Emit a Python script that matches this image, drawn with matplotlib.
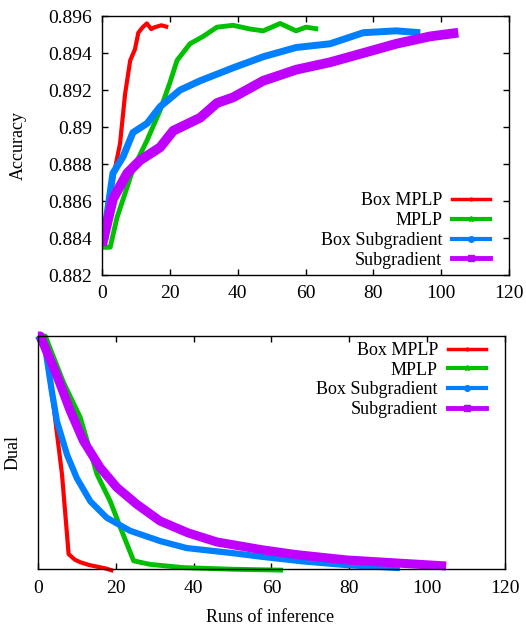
import matplotlib
matplotlib.use("Agg")
import matplotlib.pyplot as plt
from matplotlib.ticker import FuncFormatter, MultipleLocator

plt.rcParams['font.family'] = ['Liberation Serif', 'DejaVu Serif']
plt.rcParams['font.size'] = 13

labels = ["Box MPLP", "MPLP", "Box Subgradient", "Subgradient"]
colors = ['#ff0000', '#00c000', '#0080ff', '#c000ff']
markers = ['.', '*', 'o', 's']

# accuracy vs runs of inference
acc_box_mplp_x = [0, 2, 4.3, 5.3, 6.8, 8.3, 9.7, 10.7, 12, 13.2, 14.5, 15.6, 17.5, 19.5]
acc_box_mplp_y = [0.8836, 0.8860, 0.8882, 0.8891, 0.8918, 0.8936, 0.8942, 0.8951, 0.8954,
                  0.8956, 0.8953, 0.8954, 0.8955, 0.8954]

acc_mplp_x = [0, 2.4, 4.4, 9.1, 13.3, 17.1, 20, 22.1, 25.9, 29.8, 33.9, 38.6, 43.6, 47.5,
              52.5, 57.2, 60.1, 63.7]
acc_mplp_y = [0.8835, 0.8835, 0.8851, 0.8877, 0.8893, 0.8909, 0.8924, 0.8936, 0.8945,
              0.8949, 0.8954, 0.8955, 0.8953, 0.8952, 0.8956, 0.8952, 0.8954, 0.8953]

acc_box_sub_x = [0, 1.5, 3.2, 6.2, 9.1, 13.3, 17.1, 23, 28.9, 38.6, 47.5, 57.2, 67.2, 77,
                 86.7, 93.8]
acc_box_sub_y = [0.8836, 0.8853, 0.8875, 0.8884, 0.8897, 0.8902, 0.8911, 0.8920, 0.8925,
                 0.8932, 0.8938, 0.8943, 0.8945, 0.8951, 0.8952, 0.8951]

acc_sub_x = [0, 3.2, 7.4, 11.2, 17.1, 21, 28.9, 33.9, 38.6, 47.5, 57.2, 67.2, 77, 86.7,
             96.7, 105]
acc_sub_y = [0.8836, 0.8861, 0.8875, 0.8882, 0.8889, 0.8898, 0.8905, 0.8913, 0.8916,
             0.8925, 0.8931, 0.8935, 0.8940, 0.8945, 0.8949, 0.8951]

# dual (normalised, no scale shown) vs runs of inference
dual_box_mplp_x = [0, 1, 2, 4.1, 6.2, 7.9, 9.5, 10.9, 13, 15.2, 17.5, 19.4]
dual_box_mplp_y = [1.0, 0.97, 0.93, 0.69, 0.406, 0.064, 0.040, 0.029, 0.018, 0.010,
                   0.002, -0.008]

dual_mplp_x = [0, 1.9, 6.6, 10.9, 15.2, 18.6, 21.2, 24.6, 28.8, 37.3, 50, 63]
dual_mplp_y = [1.0, 1.0, 0.80, 0.65, 0.406, 0.29, 0.178, 0.035, 0.020, 0.006, -0.001,
               -0.005]

dual_box_sub_x = [0, 1.9, 3.6, 4.9, 7.5, 10.0, 13.5, 17.7, 23.7, 31.4, 38.2, 50.1, 57.8,
                  68, 79.2, 93]
dual_box_sub_y = [1.0, 0.947, 0.762, 0.634, 0.49, 0.39, 0.29, 0.22, 0.164, 0.12, 0.09,
                  0.068, 0.052, 0.033, 0.017, 0.004]

dual_sub_x = [0, 0.6, 4.9, 8.3, 11.7, 16, 20.3, 25.4, 31.4, 38.6, 46, 57.8, 66.3, 79.2,
              92, 104.9]
dual_sub_y = [1.0, 1.0, 0.83, 0.68, 0.55, 0.435, 0.35, 0.278, 0.206, 0.155, 0.116, 0.082,
              0.062, 0.039, 0.026, 0.013]

fig = plt.figure(figsize=(5.26, 6.27), dpi=100)
ax1 = fig.add_axes([0.194, 0.5614, 0.774, 0.413])
ax2 = fig.add_axes([0.072, 0.0925, 0.888, 0.3716])

acc_x = [acc_box_mplp_x, acc_mplp_x, acc_box_sub_x, acc_sub_x]
acc_y = [acc_box_mplp_y, acc_mplp_y, acc_box_sub_y, acc_sub_y]
acc_lw = [3.0, 3.5, 5.0, 7.0]
for x, y, c, lw in zip(acc_x, acc_y, colors, acc_lw):
    ax1.plot(x, y, color=c, lw=lw, solid_capstyle='butt')

dual_x = [dual_box_mplp_x, dual_mplp_x, dual_box_sub_x, dual_sub_x]
dual_y = [dual_box_mplp_y, dual_mplp_y, dual_box_sub_y, dual_sub_y]
dual_lw = [3.0, 3.5, 4.5, 6.5]
for x, y, c, lw in zip(dual_x, dual_y, colors, dual_lw):
    ax2.plot(x, y, color=c, lw=lw, solid_capstyle='butt', clip_on=False)


def style(ax):
    ax.set_xlim(0, 120)
    ax.xaxis.set_major_locator(MultipleLocator(20))
    ax.tick_params(direction='in', top=True, right=True, length=4, width=1, labelsize=14, pad=7)
    for s in ax.spines.values():
        s.set_linewidth(1.0)
        s.set_zorder(5)


style(ax1)
ax1.set_ylim(0.882, 0.896)
ax1.yaxis.set_major_locator(MultipleLocator(0.002))
ax1.yaxis.set_major_formatter(FuncFormatter(lambda v, p: '{:g}'.format(round(v, 3))))
ax1.set_ylabel("Accuracy", fontsize=13)
ax1.yaxis.set_label_coords(-0.184, 0.5)

style(ax2)
ax2.tick_params(axis='x', pad=8)
ax2.set_ylim(0.0, 1.0)
ax2.set_yticks([])
ax2.set_ylabel("Dual", fontsize=13)
ax2.yaxis.set_label_coords(-0.034, 0.5)
ax2.set_xlabel("Runs of inference", fontsize=13)
ax2.xaxis.set_label_coords(0.497, -0.172)


def legend(ax, loc, anchor):
    handles = []
    for c, lab, m, lw in zip(colors, labels, markers, [2.5, 3, 3, 3.5]):
        h, = ax.plot([], [], color=c, lw=lw, marker=m, ms=4 if m != 's' else 5, label=lab)
        handles.append(h)
    leg = ax.legend(handles=handles, loc=loc, bbox_to_anchor=anchor, frameon=False,
                    markerfirst=False, handlelength=2.1, labelspacing=0.15,
                    handletextpad=0.55, borderaxespad=0, borderpad=0, fontsize=13,
                    numpoints=1)
    leg._legend_box._children[-1]._children[0].align = 'right'
    return leg


legend(ax1, 'lower right', (0.953, 0.025))
legend(ax2, 'upper right', (0.959, 0.975))

fig.savefig("out.png", dpi=100)
